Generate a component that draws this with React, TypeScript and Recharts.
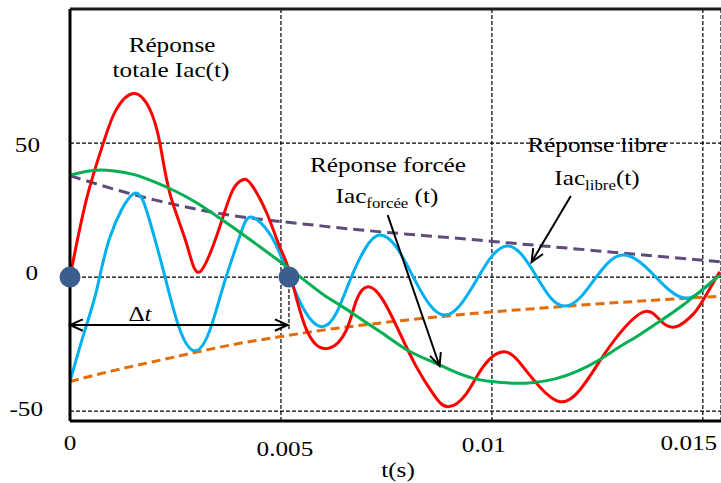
import { CartesianGrid, Line, LineChart, ReferenceDot, ReferenceLine, XAxis, YAxis } from "recharts";

type Pt = [number, number];

const X_TICKS = [0, 0.005, 0.01, 0.015];
const Y_TICKS = [-50, 0, 50];

// Réponse totale Iac(t)
const TOTALE: Pt[] = [
  [0, 0], [0.00039, 29], [0.00079, 50], [0.00108, 62], [0.0015, 68.5], [0.00188, 63],
  [0.00213, 50], [0.00237, 31], [0.00276, 12.6], [0.00308, 2], [0.00355, 18.8], [0.00386, 32.5],
  [0.0041, 36.3], [0.0043, 34.5], [0.00466, 24], [0.00497, 11.3], [0.00521, 1.5], [0.00561, -19.8],
  [0.00612, -26.6], [0.00655, -19.8], [0.00679, -8.6], [0.00707, -3.6], [0.00742, -8.6],
  [0.00782, -21], [0.00821, -33.5], [0.0086, -43.4], [0.00896, -48.4], [0.0094, -43.4],
  [0.00979, -33.5], [0.0103, -27.9], [0.01074, -33.5], [0.01113, -40.9], [0.01161, -46.5],
  [0.01208, -42.2], [0.01255, -31.5], [0.01303, -21], [0.01362, -12.9], [0.01401, -16.5],
  [0.01437, -18.5], [0.01476, -14], [0.01499, -9], [0.0154, 2],
];

// Réponse libre Iac_libre(t)
const LIBRE: Pt[] = [
  [0, -39], [0.00033, -21], [0.00063, -5], [0.00095, 15], [0.0015, 31], [0.00186, 22.5],
  [0.00222, 2], [0.00259, -19], [0.00296, -27.5], [0.00331, -20], [0.00365, -2.5], [0.00403, 15.5],
  [0.0043, 22.4], [0.00476, 15.5], [0.00515, 2], [0.00556, -12.5], [0.00596, -18.5], [0.00631, -13.5],
  [0.00665, -0.7], [0.007, 10.7], [0.00734, 15.7], [0.00773, 11.3], [0.00811, 0.8], [0.0085, -9.8],
  [0.00888, -14.2], [0.00925, -10.4], [0.00963, -1.3], [0.01, 7.8], [0.01037, 11.6], [0.01071, 8.3],
  [0.01105, 0.4], [0.01138, -7.5], [0.01172, -10.8], [0.01207, -8], [0.01241, -1.3], [0.01276, 5.4],
  [0.0131, 8.2], [0.01348, 5.9], [0.01386, 0.4], [0.01423, -5.2], [0.01464, -7.9], [0.01502, -4.5],
  [0.0154, 1],
];

// Réponse forcée Iac_forcée(t)
const FORCEE: Pt[] = [
  [0, 38], [0.0005, 39.7], [0.001, 39.7], [0.0015, 38.3], [0.002, 35.5], [0.0025, 32], [0.003, 27.7],
  [0.0035, 22.5], [0.004, 17], [0.0045, 11.3], [0.005, 5.5], [0.0055, -0.5], [0.006, -6.5],
  [0.0065, -11.5], [0.007, -16.8], [0.0075, -22], [0.008, -27.3], [0.0085, -31], [0.009, -34.5],
  [0.0095, -37.5], [0.01, -39], [0.0105, -39.6], [0.011, -39.3], [0.0115, -38], [0.012, -35.3],
  [0.0125, -31.3], [0.013, -26.3], [0.0135, -21.5], [0.014, -16.3], [0.0145, -10.8], [0.015, -4.5],
  [0.0154, 0.6],
];

// enveloppes (pointillés)
const ENV_HAUT: Pt[] = [
  [0, 37.8], [0.001, 33], [0.002, 28.8], [0.003, 25.3], [0.004, 22.6], [0.005, 20.7], [0.006, 19],
  [0.007, 17.4], [0.008, 16], [0.009, 14.7], [0.01, 13.3], [0.011, 11.9], [0.012, 10.5],
  [0.013, 9.1], [0.014, 7.7], [0.015, 6.3], [0.0154, 5.7],
];

const ENV_BAS: Pt[] = [
  [0, -39], [0.001, -35], [0.002, -31.5], [0.003, -28], [0.004, -24.8], [0.005, -22.2], [0.006, -19.8],
  [0.007, -17.8], [0.008, -16], [0.009, -14.4], [0.01, -13], [0.011, -11.8], [0.012, -10.6],
  [0.013, -9.5], [0.014, -8.5], [0.015, -7.5], [0.0154, -7.2],
];

const FONT = '"Liberation Serif", "Times New Roman", serif';
const X_TICK_SHIFT: Record<string, number[]> = { "0": [0, 0], "0.005": [4, 6], "0.01": [-8, 2], "0.015": [-14, 0] };
const Y_TICK_SHIFT: Record<string, number[]> = { "-50": [-27, 5], "0": [-32, 3], "50": [-30, 8.5] };

const toRows = (pts: Pt[]) => pts.map(([t, v]) => ({ t, v }));

function XTick(props: any) {
  const { x, y, payload } = props;
  const [dx, dy] = X_TICK_SHIFT[String(payload.value)] ?? [0, 0];
  return (
    <text transform={`translate(${x + dx},${y + 29 + dy}) scale(1.2,1)`} textAnchor="middle" fontFamily={FONT} fontSize={21} fill="#000">
      {String(payload.value)}
    </text>
  );
}

function YTick(props: any) {
  const { y, payload } = props;
  const [dx, dy] = Y_TICK_SHIFT[String(payload.value)] ?? [-30, 5];
  return (
    <text transform={`translate(${70 + dx},${y + dy}) scale(1.2,1)`} textAnchor="end" fontFamily={FONT} fontSize={21} fill="#000">
      {String(payload.value)}
    </text>
  );
}

function headPath(hx: number, hy: number, fx: number, fy: number) {
  const a = Math.atan2(hy - fy, hx - fx);
  const L = 14;
  const w = 0.42;
  return `M${hx - L * Math.cos(a - w)},${hy - L * Math.sin(a - w)} L${hx},${hy} L${hx - L * Math.cos(a + w)},${hy - L * Math.sin(a + w)}`;
}

const arrow = (both: boolean) => (p: any) => {
  const { x1, y1, x2, y2 } = p;
  return (
    <g>
      <line x1={x1} y1={y1} x2={x2} y2={y2} stroke="#000" strokeWidth={2} />
      <path d={headPath(x2, y2, x1, y1)} fill="none" stroke="#000" strokeWidth={2} />
      {both && <path d={headPath(x1, y1, x2, y2)} fill="none" stroke="#000" strokeWidth={2} />}
    </g>
  );
};

const txt = { fontFamily: FONT, fontSize: 21, fill: "#000", textAnchor: "middle" as const };

export default function App() {
  return (
    <div style={{ position: "absolute", left: 0, top: 0, width: 721, height: 483, background: "#fff" }}>
      <LineChart width={721} height={483} margin={{ top: 9, right: 0, bottom: 0, left: 0 }}>
        <CartesianGrid stroke="#000" strokeDasharray="4 2" strokeWidth={1.2} />
        <XAxis
          type="number"
          dataKey="t"
          domain={[0, 0.01543]}
          ticks={X_TICKS}
          interval={0}
          allowDataOverflow
          height={62}
          axisLine={{ stroke: "#000", strokeWidth: 3 }}
          tickLine={false}
          tickSize={0}
          tickMargin={0}
          tick={(p: any) => <XTick {...p} />}
        />
        <YAxis
          type="number"
          domain={[-53.7, 100]}
          ticks={Y_TICKS}
          interval={0}
          allowDataOverflow
          width={70}
          axisLine={{ stroke: "#000", strokeWidth: 3 }}
          tickLine={false}
          tickSize={0}
          tickMargin={0}
          tick={(p: any) => <YTick {...p} />}
        />
        <ReferenceLine y={100} stroke="#1a1a1a" strokeWidth={3} />
        <Line data={toRows(ENV_BAS)} dataKey="v" type="natural" stroke="#e46c0a" strokeWidth={3} strokeDasharray="9 5" dot={false} isAnimationActive={false} />
        <Line data={toRows(ENV_HAUT)} dataKey="v" type="natural" stroke="#604a7b" strokeWidth={3} strokeDasharray="11 6" dot={false} isAnimationActive={false} />
        <Line data={toRows(LIBRE)} dataKey="v" type="natural" stroke="#00b0f0" strokeWidth={3} dot={false} isAnimationActive={false} />
        <Line data={toRows(TOTALE)} dataKey="v" type="natural" stroke="#ff0000" strokeWidth={3} dot={false} isAnimationActive={false} />
        <Line data={toRows(FORCEE)} dataKey="v" type="natural" stroke="#00b050" strokeWidth={3} dot={false} isAnimationActive={false} />
        <ReferenceLine segment={[{ x: 0.00519, y: 0 }, { x: 0.00519, y: -19.4 }]} stroke="#000" strokeWidth={1.2} strokeDasharray="4 2" />
        <ReferenceLine segment={[{ x: 0, y: -17.9 }, { x: 0.00516, y: -17.9 }]} shape={arrow(true)} />
        <ReferenceLine segment={[{ x: 0.00753, y: 23.1 }, { x: 0.00876, y: -33.2 }]} shape={arrow(false)} />
        <ReferenceLine segment={[{ x: 0.01187, y: 30.2 }, { x: 0.01094, y: 5.6 }]} shape={arrow(false)} />
        <ReferenceDot x={0} y={0} r={10.5} fill="#3b5e8e" stroke="none" />
        <ReferenceDot x={0.00519} y={0} r={10.5} fill="#3b5e8e" stroke="none" />
      </LineChart>
      <svg width={721} height={483} style={{ position: "absolute", left: 0, top: 0, pointerEvents: "none" }}>
        <text {...txt} transform="translate(172,52) scale(1.2,1)">Réponse</text>
        <text {...txt} transform="translate(171,77) scale(1.2,1)">totale Iac(t)</text>
        <text {...txt} transform="translate(388,172) scale(1.2,1)">Réponse forcée</text>
        <text {...txt} transform="translate(387,203) scale(1.2,1)">
          Iac<tspan fontSize={14} dy={5}>forcée</tspan><tspan dy={-5}> (t)</tspan>
        </text>
        <text {...txt} transform="translate(597,152) scale(1.2,1)">Réponse libre</text>
        <text {...txt} transform="translate(597,185) scale(1.2,1)">
          Iac<tspan fontSize={14} dy={5}>libre</tspan><tspan dy={-5}>(t)</tspan>
        </text>
        <text {...txt} transform="translate(140,321) scale(1.2,1)">
          Δ<tspan fontStyle="italic">t</tspan>
        </text>
        <text {...txt} transform="translate(398,477) scale(1.2,1)">t(s)</text>
      </svg>
    </div>
  );
}
